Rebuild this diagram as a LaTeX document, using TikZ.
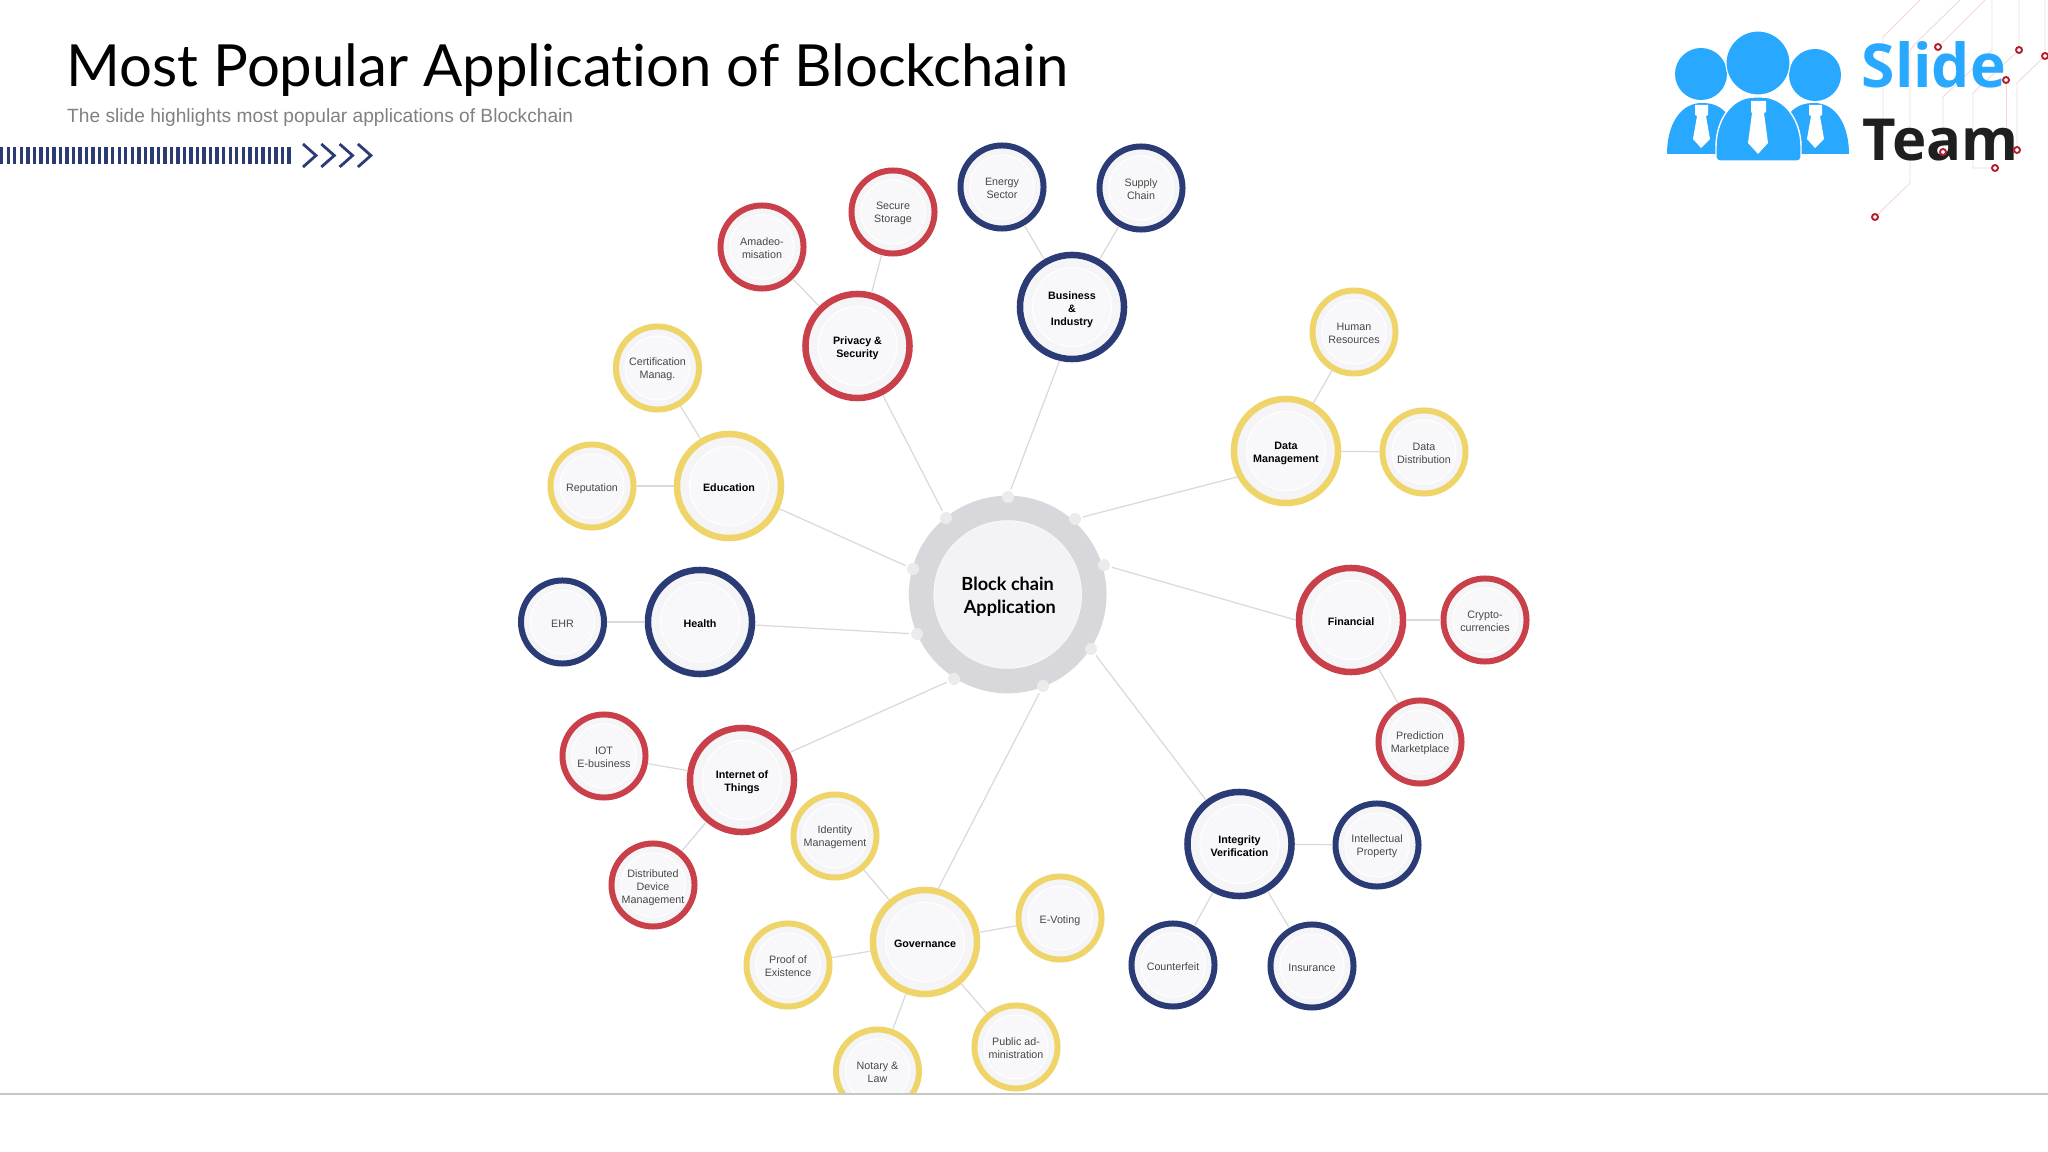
\documentclass[tikz,border=0pt]{standalone}
\usepackage{fontspec}
\setmainfont{Liberation Sans}
\newfontfamily\titlefont[Ligatures=NoCommon]{Lato}
\newfontfamily\logofont{Open Sans}
\definecolor{ringred}{HTML}{C9404A}
\definecolor{ringnavy}{HTML}{2B3B75}
\definecolor{ringyellow}{HTML}{EFD469}
\definecolor{hubgray}{HTML}{D8D8DC}
\definecolor{discgray}{HTML}{F3F2F5}
\definecolor{halogray}{HTML}{F5F5F7}
\definecolor{facegray}{HTML}{F8F8FA}
\definecolor{linkgray}{HTML}{D9D9DD}
\definecolor{logoblue}{HTML}{29A8FF}
\definecolor{circuitred}{HTML}{B5202F}
\tikzset{
    lift/.style={execute at begin node={\rule{0pt}{#1}}},
    ring/.style={circle,fill=halogray,inner sep=0pt,align=center,
        path picture={\fill[facegray,draw=white,line width=0.3pt] (path picture bounding box.center) circle (#1);}},
    major/.style={ring=0.395cm,lift=7.2pt,draw=#1,line width=1.85pt,minimum size=1.04cm,
        font=\fontsize{3.05}{3.7}\selectfont\bfseries},
    minor/.style={ring=0.32cm,lift=6.6pt,draw=#1,line width=1.7pt,minimum size=0.83cm,text=black!72,
        font=\fontsize{3.05}{3.7}\selectfont},
    port/.style={circle,fill=black!8,inner sep=0pt,minimum size=0.12cm,outer sep=0.6pt},
    link/.style={draw=linkgray,line width=0.35pt},
    circuit/.style={draw=circuitred!18,line width=0.25pt},
    pin/.style={draw=circuitred,fill=white,line width=0.55pt}
}
\begin{document}
\begin{tikzpicture}[x=0.01cm,y=-0.01cm]
    \useasboundingbox (0,0) rectangle (2048,1152);

    \draw[circuit] (1920,0) -- (1883,37) -- (1883,134);
    \draw[circuit] (1960,0) -- (1917,42) -- (1910,50) -- (1910,183) -- (1875,217);
    \draw[circuit] (1985,0) -- (1938,47);
    \draw[circuit] (1992,0) -- (1992,50) -- (1943,97) -- (1943,152);
    \draw[circuit] (2019,0) -- (2019,50) -- (1973,93) -- (1973,168) -- (1995,168);
    \draw[circuit] (2045,0) -- (2045,56) -- (2017,83) -- (2017,150);
    \draw[circuit] (2006,80) -- (2006,135);

    \fill[logoblue] (1667,154) .. controls (1667,125) and (1680,103) .. (1702,103) .. controls (1720,103) and (1735,112) .. (1740,154) -- cycle;
    \fill[logoblue] (1849,154) .. controls (1849,125) and (1836,103) .. (1814,103) .. controls (1796,103) and (1781,112) .. (1776,154) -- cycle;
    \fill[logoblue] (1701,74) circle (26);
    \fill[logoblue] (1815,75) circle (26);
    \fill[logoblue,draw=white,line width=0.3pt] (1758,63) circle (32);
    \fill[logoblue,draw=white,line width=0.4pt,rounded corners=1pt] (1716,161) -- (1716,150) .. controls (1716,122) and (1730,97) .. (1758,97) .. controls (1786,97) and (1801,122) .. (1801,150) -- (1801,161) -- cycle;
    \fill[white] (1751,101) -- (1766,101) -- (1766,112) -- (1764,113) -- (1768,143) -- (1758,154) -- (1748,143) -- (1752,113) -- (1751,112) -- cycle;
    \fill[white] (1695,105) -- (1708,105) -- (1708,115) -- (1706,116) -- (1710,139) -- (1701,148) -- (1693,139) -- (1697,116) -- (1695,115) -- cycle;
    \fill[white] (1809,105) -- (1822,105) -- (1822,115) -- (1820,116) -- (1824,139) -- (1815,148) -- (1807,139) -- (1811,116) -- (1809,115) -- cycle;
    \node[anchor=base west,inner sep=0pt,text=logoblue,font=\fontsize{17.2}{17}\logofont\bfseries] (slide) at (1861,88) {Slide};
    \node[anchor=base west,inner sep=0pt,text=black!88,font=\fontsize{16.5}{17}\logofont\bfseries] (team) at (1862,161) {Team};
    \draw[pin] (1938,47) circle (3);
    \draw[pin] (2019,50) circle (3);
    \draw[pin] (2045,56) circle (3);
    \draw[pin] (2006,80) circle (3);
    \draw[pin] (2017,150) circle (3);
    \draw[pin] (1995,168) circle (3);
    \draw[pin] (1943,152) circle (3);
    \draw[pin] (1875,217) circle (3);

    \node[anchor=base west,inner sep=0pt,font=\fontsize{16.52}{20}\titlefont] (title) at (66,86.5) {Most Popular Application of Blockchain};
    \node[anchor=base west,inner sep=0pt,text=black!50,font=\fontsize{5.45}{6}\selectfont] (subtitle) at (66.5,122.5) {The slide highlights most popular applications of Blockchain};
    \foreach \i in {0,...,44}
        \fill[ringnavy] (\i*6.53,147) rectangle ++(3.4,17);
    \foreach \i in {0,1,2,3}
        \draw[ringnavy,line width=0.8pt] (303+\i*18.3,144) -- (316+\i*18.3,155.5) -- (303+\i*18.3,167);

    \node[circle,fill=white,draw=hubgray,line width=7pt,minimum size=1.73cm,inner sep=0pt,align=center,
        path picture={\fill[discgray] (path picture bounding box.center) circle (0.735cm);},
        lift=11.8pt,
        font=\fontsize{5.15}{6.6}\titlefont\bfseries] (hub) at (1007.7,594.5) {Block chain\\\ Application};
    \node[port] (portA) at (946,518) {};
    \node[port] (portB) at (1008,497) {};
    \node[port] (portC) at (1075,519) {};
    \node[port] (portD) at (1104,565) {};
    \node[port] (portE) at (1091,649) {};
    \node[port] (portF) at (1043,686) {};
    \node[port] (portG) at (954,679) {};
    \node[port] (portH) at (917,634) {};
    \node[port] (portI) at (913,569) {};

    \node[major=ringred] (privacy) at (857.5,346) {Privacy \&\\Security};
    \node[major=ringnavy,lift=10.9pt] (business) at (1072,307) {Business\\\&\\Industry};
    \node[major=ringyellow] (data) at (1286,451) {Data\\Management};
    \node[major=ringred,text depth=4.15pt] (financial) at (1351,620) {Financial};
    \node[major=ringnavy] (integrity) at (1239.5,844) {Integrity\\Verification};
    \node[major=ringyellow,text depth=4.15pt] (governance) at (925,942) {Governance};
    \node[major=ringred] (iot) at (742,780) {Internet of\\Things};
    \node[major=ringnavy,text depth=4.15pt] (health) at (700,622) {Health};
    \node[major=ringyellow,text depth=4.15pt] (education) at (729,486) {Education};

    \node[minor=ringred] (amadeo) at (762,247) {Amadeo-\\misation};
    \node[minor=ringred] (storage) at (893,212) {Secure\\Storage};
    \node[minor=ringnavy] (energy) at (1002,187) {Energy\\Sector};
    \node[minor=ringnavy] (supply) at (1141,188) {Supply\\Chain};
    \node[minor=ringyellow] (human) at (1354,332) {Human\\Resources};
    \node[minor=ringyellow] (distribution) at (1424,452) {Data\\Distribution};
    \node[minor=ringred] (crypto) at (1485,620) {Crypto-\\currencies};
    \node[minor=ringred] (prediction) at (1420,742) {Prediction\\Marketplace};
    \node[minor=ringnavy] (property) at (1377,845) {Intellectual\\Property};
    \node[minor=ringnavy,text depth=3.55pt] (insurance) at (1312,966) {Insurance};
    \node[minor=ringnavy,text depth=3.55pt] (counterfeit) at (1173,965) {Counterfeit};
    \node[minor=ringyellow,text depth=3.55pt] (voting) at (1060,918) {E-Voting};
    \node[minor=ringyellow] (public) at (1016,1047) {Public ad-\\ministration};
    \node[minor=ringyellow] (notary) at (877.5,1071) {Notary \&\\Law};
    \node[minor=ringyellow] (proof) at (788,965) {Proof of\\Existence};
    \node[minor=ringyellow] (identity) at (835,836) {Identity\\Management};
    \node[minor=ringred,lift=11.1pt] (device) at (653,885) {Distributed\\Device\\Management};
    \node[minor=ringred] (ebusiness) at (604,756) {IOT\\E-business};
    \node[minor=ringnavy,text depth=3.55pt] (ehr) at (562.5,622) {EHR};
    \node[minor=ringyellow,text depth=3.55pt] (reputation) at (592,486) {Reputation};
    \node[minor=ringyellow] (certification) at (657.5,368) {Certification\\Manag.};

    \draw[link] (portA) -- (privacy);
    \draw[link] (portB) -- (business.257);
    \draw[link] (portC) -- (data.208);
    \draw[link] (portD) -- (financial.180);
    \draw[link] (portE) -- (integrity);
    \draw[link] (portF) -- (governance.76);
    \draw[link] (portG) -- (iot.30);
    \draw[link] (portH) -- (health);
    \draw[link] (portI) -- (education);
    \draw[link] (privacy) -- (amadeo);
    \draw[link] (privacy) -- (storage);
    \draw[link] (business) -- (energy);
    \draw[link] (business) -- (supply);
    \draw[link] (data) -- (human);
    \draw[link] (data) -- (distribution);
    \draw[link] (financial) -- (crypto);
    \draw[link] (financial) -- (prediction);
    \draw[link] (integrity) -- (property);
    \draw[link] (integrity) -- (insurance);
    \draw[link] (integrity) -- (counterfeit);
    \draw[link] (governance) -- (voting);
    \draw[link] (governance) -- (public);
    \draw[link] (governance) -- (notary);
    \draw[link] (governance) -- (proof);
    \draw[link] (governance) -- (identity);
    \draw[link] (iot) -- (device);
    \draw[link] (iot) -- (ebusiness);
    \draw[link] (health) -- (ehr);
    \draw[link] (education) -- (reputation);
    \draw[link] (education) -- (certification);

    \fill[white] (0,1094) rectangle (2048,1152);
    \draw[black!22,line width=0.35pt] (0,1094) -- (2048,1094);
\end{tikzpicture}
\end{document}
